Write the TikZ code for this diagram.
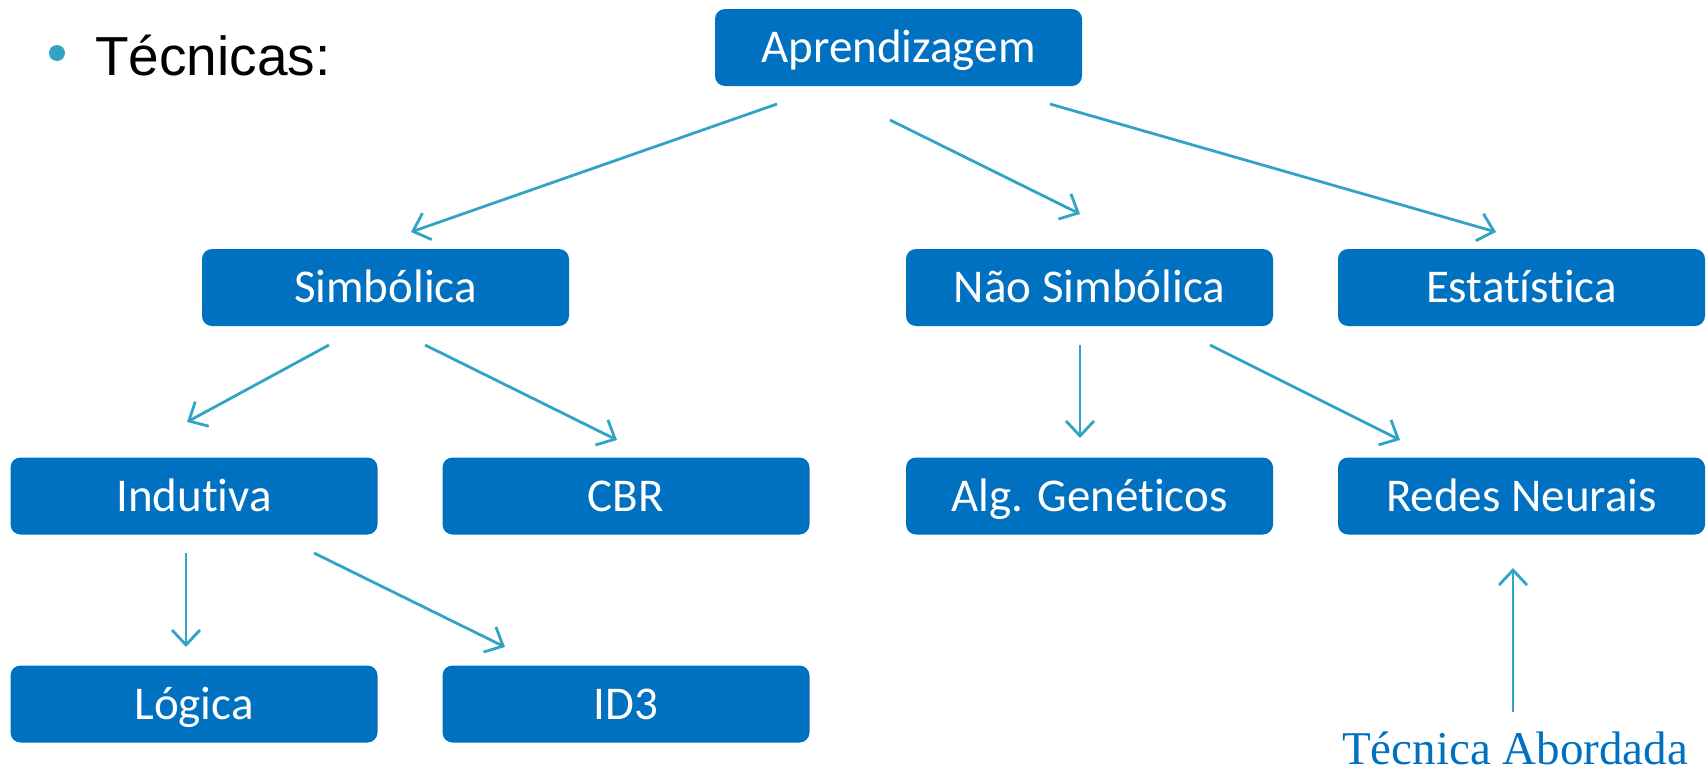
\documentclass[tikz,border=0pt]{standalone}
\usepackage{fontspec}
\setmainfont{Carlito}[Ligatures={NoCommon}]
\newfontfamily\headfont{Liberation Sans}
\newfontfamily\serifnote{Liberation Serif}
\usetikzlibrary{arrows.meta}
\definecolor{boxblue}{RGB}{0,112,192}
\definecolor{arrteal}{RGB}{49,163,196}
\tikzset{
  tbox/.style={draw=none, fill=boxblue, rounded corners=10pt, minimum width=367pt, minimum height=77pt,
    text=white, font=\fontsize{47}{50}\selectfont, inner sep=0pt, text height=30pt, text depth=0pt},
  conn/.style={draw=arrteal, line width=2.8pt, -{Straight Barb[length=15pt,width=28pt,line width=2.8pt]}},
}
\begin{document}
\begin{tikzpicture}[x=1pt,y=-1pt]
\useasboundingbox (0,0) rectangle (1706,771);
% title
\fill[arrteal] (57,53) circle (8);
\node[anchor=base west, inner sep=0pt, font=\headfont\fontsize{55}{58}\selectfont] (title) at (95,75) {Técnicas:};
% boxes
\node[tbox] (apr) at (898.5,47.5) {Aprendizagem};
\node[tbox] (simb) at (385.5,287.5) {Simbólica};
\node[tbox] (nsimb) at (1089.5,287.5) {Não Simbólica};
\node[tbox] (estat) at (1521.5,287.5) {Estatística};
\node[tbox] (ind) at (194,496) {Indutiva};
\node[tbox] (cbr) at (626,496) {CBR};
\node[tbox] (alg) at (1089.5,496) {Alg. Genéticos};
\node[tbox] (redes) at (1521.5,496) {Redes Neurais};
\node[tbox] (log) at (194,704) {Lógica};
\node[tbox] (id3) at (626,704) {ID3};
\node[anchor=base west, inner sep=0pt, text=boxblue, font=\serifnote\fontsize{47}{50}\selectfont] (note) at (1342,764) {Técnica Abordada};
% connector endpoints
\coordinate (a1) at (777,104); \coordinate (b1) at (411,232);
\coordinate (a2) at (890,120); \coordinate (b2) at (1080,214);
\coordinate (a3) at (1050,104); \coordinate (b3) at (1496,232);
\coordinate (s1) at (329,345); \coordinate (t1) at (187,422);
\coordinate (s2) at (425,345); \coordinate (t2) at (617,440);
\coordinate (n1) at (1080,345); \coordinate (m1) at (1080,438);
\coordinate (n2) at (1210,345); \coordinate (m2) at (1400,440);
\coordinate (i1) at (186,553); \coordinate (j1) at (186,647);
\coordinate (i2) at (314,553); \coordinate (j2) at (505,647);
\coordinate (r1) at (1513,712); \coordinate (q1) at (1513,568);
\draw[conn] (a1) -- (b1);
\draw[conn] (a2) -- (b2);
\draw[conn] (a3) -- (b3);
\draw[conn] (s1) -- (t1);
\draw[conn] (s2) -- (t2);
\draw[conn] (n1) -- (m1);
\draw[conn] (n2) -- (m2);
\draw[conn] (i1) -- (j1);
\draw[conn] (i2) -- (j2);
\draw[conn] (r1) -- (q1);
\end{tikzpicture}
\end{document}
